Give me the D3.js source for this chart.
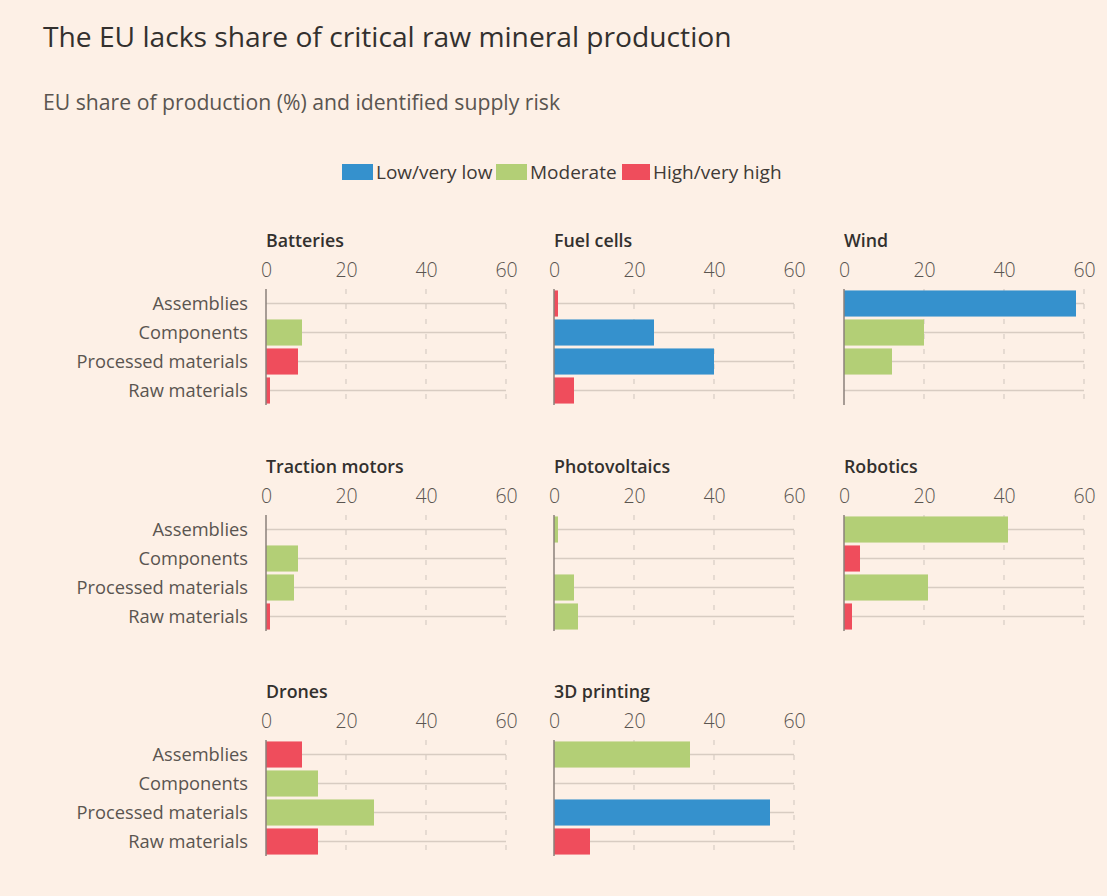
<!DOCTYPE html>
<html>
<head>
<meta charset="utf-8">
<script src="https://cdn.jsdelivr.net/npm/d3@7"></script>
<style>
  body { margin: 0; background: #fdf0e6; }
  svg { font-family: "Open Sans", sans-serif; }
</style>
</head>
<body>
<div id="chart"></div>
<script>
// chart data
var stages = ["Assemblies", "Components", "Processed materials", "Raw materials"];
var sectors = ["Batteries", "Fuel cells", "Wind", "Traction motors", "Photovoltaics", "Robotics", "Drones", "3D printing"];
var riskLevels = ["Low/very low", "Moderate", "High/very high"];
var ticks = [0, 20, 40, 60];

// EU share of production (%), one row per sector, in stage order
var shares = [
  [0, 9, 8, 1],
  [1, 25, 40, 5],
  [58, 20, 12, 0],
  [0, 8, 7, 1],
  [1, 0, 5, 6],
  [41, 4, 21, 2],
  [9, 13, 27, 13],
  [34, 0, 54, 9]
];
// supply risk: 0 low, 1 moderate, 2 high, null none
var risks = [
  [null, 1, 2, 2],
  [2, 0, 0, 2],
  [0, 1, 1, null],
  [null, 1, 1, 2],
  [1, null, 1, 1],
  [1, 2, 1, 2],
  [2, 1, 1, 2],
  [1, null, 0, 2]
];

var colors = ["#3591cd", "#b3cf76", "#ef4d5c"];

var width = 1107, height = 896;
var svg = d3.select("#chart").append("svg")
  .attr("width", width)
  .attr("height", height);

svg.append("rect").attr("width", width).attr("height", height).attr("fill", "#fdf0e6");

svg.append("text")
  .attr("x", 43).attr("y", 47)
  .attr("font-size", 28.2)
  .attr("fill", "#33302e")
  .text("The EU lacks share of critical raw mineral production");

svg.append("text")
  .attr("x", 43).attr("y", 110)
  .attr("font-size", 21.2)
  .attr("fill", "#5a5550")
  .text("EU share of production (%) and identified supply risk");

// legend
var legendX = [342, 496, 622];
var legend = svg.append("g");
riskLevels.forEach(function(r, i){
  legend.append("rect")
    .attr("x", legendX[i]).attr("y", 164)
    .attr("width", i == 2 ? 28 : 31).attr("height", 16)
    .attr("fill", colors[i]);
  legend.append("text")
    .attr("x", legendX[i] + (i == 2 ? 31 : 34)).attr("y", 179)
    .attr("font-size", 19)
    .attr("fill", "#3f3a36")
    .text(r);
});

// panel layout
var colX = [266, 554, 844];
var rowTop = [289, 515, 740];
var plotW = 240, plotH = 116;

var x = d3.scaleLinear().domain([0, 60]).range([0, plotW]);
var y = d3.scaleBand().domain(stages).range([0, plotH]).paddingInner(0.1).paddingOuter(0.05);

sectors.forEach(function(name, si){
  var g = svg.append("g")
    .attr("transform", "translate(" + colX[si % 3] + "," + rowTop[Math.floor(si / 3)] + ")");

  g.append("text")
    .attr("x", 0).attr("y", -42)
    .attr("font-size", 17.8)
    .attr("font-weight", 600)
    .attr("fill", "#33302e")
    .text(name);

  // tick labels on top
  var ax = g.append("g")
    .call(d3.axisTop(x).tickValues(ticks).tickSize(0).tickPadding(12));
  ax.select(".domain").remove();
  ax.selectAll("text")
    .attr("font-size", 19.5)
    .attr("font-family", "Open Sans, sans-serif")
    .attr("fill", "#5a5550")
    .attr("font-weight", 300);

  // vertical dashed grid
  g.selectAll(".vgrid").data(ticks.slice(1)).enter().append("line")
    .attr("x1", function(d){ return x(d); })
    .attr("x2", function(d){ return x(d); })
    .attr("y1", 0).attr("y2", plotH)
    .attr("stroke", "#cfc5bd")
    .attr("stroke-width", 1)
    .attr("stroke-dasharray", "5,10");

  // horizontal rails
  g.selectAll(".hgrid").data(stages).enter().append("line")
    .attr("x1", 0).attr("x2", x(60))
    .attr("y1", function(d){ return y(d) + y.bandwidth() / 2; })
    .attr("y2", function(d){ return y(d) + y.bandwidth() / 2; })
    .attr("stroke", "#d8ccc2")
    .attr("stroke-width", 1.5);

  // bars
  var rows = stages.map(function(s, i){ return { stage: s, value: shares[si][i], risk: risks[si][i] }; });
  g.selectAll(".bar").data(rows.filter(function(d){ return d.value > 0 && d.risk !== null; }))
    .enter().append("rect")
    .attr("x", 0)
    .attr("y", function(d){ return y(d.stage); })
    .attr("width", function(d){ return x(d.value); })
    .attr("height", y.bandwidth())
    .attr("fill", function(d){ return colors[d.risk]; });

  // zero line
  g.append("line")
    .attr("x1", 0).attr("x2", 0)
    .attr("y1", 0).attr("y2", plotH)
    .attr("stroke", "#8a817a")
    .attr("stroke-width", 1.5);

  // stage labels only on first column
  if (si % 3 === 0) {
    g.selectAll(".lab").data(stages).enter().append("text")
      .attr("x", -18)
      .attr("y", function(d){ return y(d) + y.bandwidth() / 2; })
      .attr("dy", "0.35em")
      .attr("text-anchor", "end")
      .attr("font-size", 18.3)
      .attr("fill", "#5a5550")
      .text(function(d){ return d; });
  }
});
</script>
</body>
</html>
